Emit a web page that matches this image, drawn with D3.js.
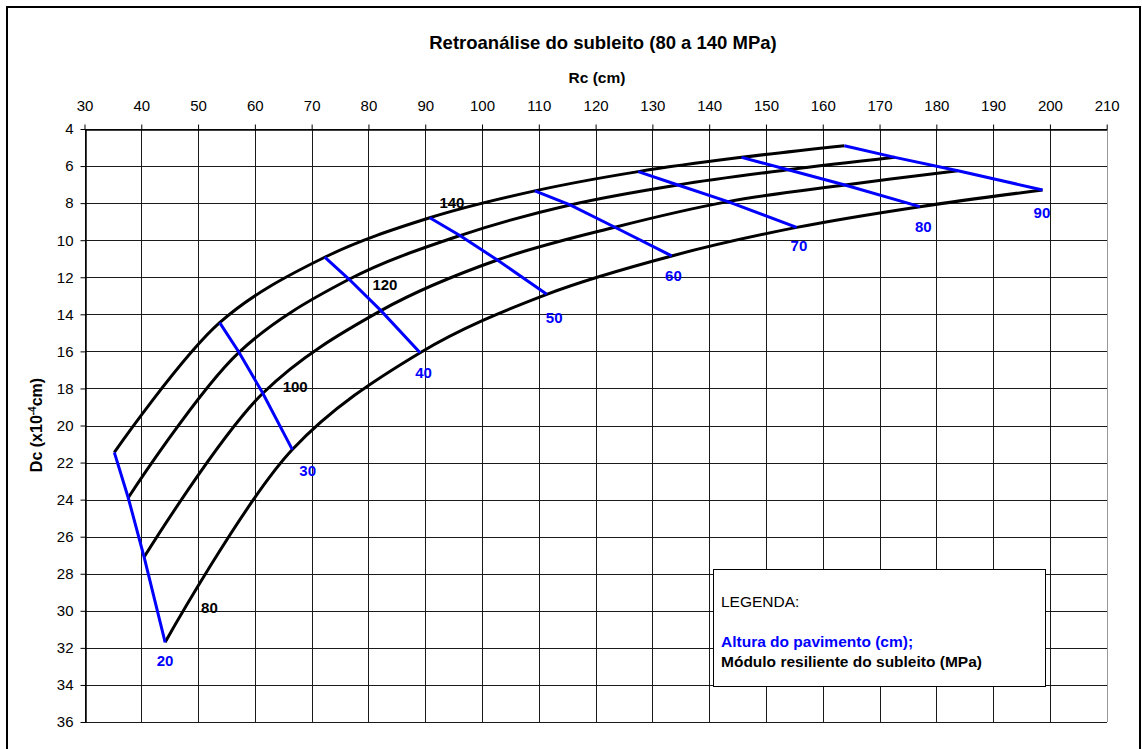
<!DOCTYPE html>
<html>
<head>
<meta charset="utf-8">
<script src="https://cdn.jsdelivr.net/npm/d3@7"></script>
<style>
  html, body { margin: 0; padding: 0; background: #fff; }
  svg { display: block; font-family: "Liberation Sans", Arial, sans-serif; }
</style>
</head>
<body>
<svg id="chart" width="1142" height="749"></svg>
<script>
// ---------------- DATA ----------------
const xTicks = [30,40,50,60,70,80,90,100,110,120,130,140,150,160,170,180,190,200,210];
const yTicks = [4,6,8,10,12,14,16,18,20,22,24,26,28,30,32,34,36];

// pavement thickness (cm) – one point per curve for each
const heights = [20,30,40,50,60,70,80,90];
// subgrade resilient modulus (MPa) – one black curve each
const moduli = [80,100,120,140];

// Rc (cm) and Dc (x10^-4 cm) for each modulus, ordered by heights
const rc80  = [44.2, 66.6, 89.1, 111.4, 133.4, 155.4, 177.1, 198.7];
const dc80  = [31.7, 21.3, 16.07, 12.92, 10.85, 9.31, 8.19, 7.29];
const rc100 = [40.5, 61.4, 82.2, 102.7, 123.4, 143.3, 163.9, 183.8];
const dc100 = [27.1, 18.26, 13.8, 11.07, 9.3, 7.92, 7.02, 6.25];
const rc120 = [37.7, 57.2, 76.6, 96.1, 115.5, 134.5, 153.9, 172.7];
const dc120 = [23.9, 16.05, 12.11, 9.75, 8.1, 7.02, 6.2, 5.53];
const rc140 = [35.25, 53.8, 72.3, 90.8, 109.3, 127.5, 145.7, 163.8];
const dc140 = [21.45, 14.45, 10.92, 8.79, 7.34, 6.3, 5.53, 4.9];

// label anchors (data units)
const heightLabelRc = [44.2, 69.3, 89.7, 112.7, 133.7, 155.8, 177.7, 198.6];
const heightLabelDc = [32.7, 22.45, 17.13, 14.18, 11.92, 10.26, 9.27, 8.52];
const modulusLabelRc = [52.0, 67.1, 82.9, 94.7];
const modulusLabelDc = [29.8, 17.92, 12.38, 7.98];

const titleText = "Retroanálise do subleito (80 a 140 MPa)";
const xTitle = "Rc (cm)";
const legendLines = ["LEGENDA:", "Altura do pavimento (cm);", "Módulo resiliente do subleito (MPa)"];

// ---------------- CHART ----------------
const svg = d3.select("#chart");
const BLUE = "#0000ff";

const x = d3.scaleLinear().domain([30, 210]).range([84.5, 1106.7]);
const y = d3.scaleLinear().domain([4, 36]).range([129, 722]);
const px = v => Math.round(x(v)) + 0.5;
const py = v => Math.round(y(v)) + 0.5;

// outer frame
svg.append("path")
  .attr("d", "M7,760V7H1140V760")
  .attr("fill", "none").attr("stroke", "#000").attr("stroke-width", 2);

// title
svg.append("text").attr("x", 603).attr("y", 48.5)
  .attr("text-anchor", "middle").attr("font-weight", "bold").attr("font-size", 18.5)
  .text(titleText);
svg.append("text").attr("x", 597).attr("y", 83)
  .attr("text-anchor", "middle").attr("font-weight", "bold").attr("font-size", 15.5)
  .text(xTitle);

// grid
const grid = svg.append("g").attr("stroke", "#1a1a1a").attr("stroke-width", 1).attr("shape-rendering", "crispEdges");
grid.selectAll("line.v").data(xTicks).join("line")
  .attr("x1", d => px(d)).attr("x2", d => px(d))
  .attr("y1", y(4)).attr("y2", y(36))
  .attr("stroke", d => d === 210 ? "#999" : null);
grid.selectAll("line.h").data(yTicks).join("line")
  .attr("x1", x(30)).attr("x2", x(210))
  .attr("y1", d => py(d)).attr("y2", d => py(d));

// axes
const xAxis = d3.axisTop(x).tickValues(xTicks).tickSize(5).tickSizeOuter(0).tickPadding(14);
const gx = svg.append("g").attr("transform", `translate(0,${py(4)})`).call(xAxis);
gx.selectAll("text").attr("font-size", 15).attr("font-family", "Liberation Sans, Arial, sans-serif").attr("fill", "#000");
gx.select(".domain").attr("stroke", "#000").attr("stroke-width", 1.5);
gx.selectAll(".tick line").attr("stroke", "#000");

const yAxis = d3.axisLeft(y).tickValues(yTicks).tickSize(5).tickSizeOuter(0).tickPadding(7);
const gy = svg.append("g").attr("transform", `translate(${px(30)},0)`).call(yAxis);
gy.selectAll("text").attr("font-size", 15).attr("font-family", "Liberation Sans, Arial, sans-serif").attr("fill", "#000");
gy.select(".domain").attr("stroke", "#000").attr("stroke-width", 1.5);
gy.selectAll(".tick line").attr("stroke", "#000");

// y axis title
const yt = svg.append("text")
  .attr("transform", "translate(42,425) rotate(-90)")
  .attr("text-anchor", "middle").attr("font-weight", "bold").attr("font-size", 16);
yt.append("tspan").text("Dc (x10");
yt.append("tspan").attr("font-size", 10).attr("dy", -6).text("-4");
yt.append("tspan").attr("dy", 6).text("cm)");

// black curves
const curveData = [
  {m: moduli[0], rc: rc80,  dc: dc80},
  {m: moduli[1], rc: rc100, dc: dc100},
  {m: moduli[2], rc: rc120, dc: dc120},
  {m: moduli[3], rc: rc140, dc: dc140}
];
const line = d3.line().x(d => x(d[0])).y(d => y(d[1])).curve(d3.curveCatmullRom.alpha(0.5));
svg.append("g").selectAll("path").data(curveData).join("path")
  .attr("d", c => line(c.rc.map((r, i) => [r, c.dc[i]])))
  .attr("fill", "none").attr("stroke", "#000").attr("stroke-width", 3);

// blue iso-thickness lines
const straight = d3.line().x(d => x(d[0])).y(d => y(d[1]));
svg.append("g").selectAll("path").data(heights).join("path")
  .attr("d", (h, i) => straight(curveData.map(c => [c.rc[i], c.dc[i]])))
  .attr("fill", "none").attr("stroke", BLUE).attr("stroke-width", 3);

// labels
svg.append("g").selectAll("text").data(heights).join("text")
  .attr("x", (h, i) => x(heightLabelRc[i])).attr("y", (h, i) => y(heightLabelDc[i]) + 5.5)
  .attr("text-anchor", "middle").attr("font-weight", "bold").attr("font-size", 15).attr("fill", BLUE)
  .text(h => h);
svg.append("g").selectAll("text").data(moduli).join("text")
  .attr("x", (m, i) => x(modulusLabelRc[i])).attr("y", (m, i) => y(modulusLabelDc[i]) + 5.5)
  .attr("text-anchor", "middle").attr("font-weight", "bold").attr("font-size", 15).attr("fill", "#000")
  .text(m => m);

// legend
const lg = svg.append("g");
lg.append("rect").attr("x", 713.5).attr("y", 569.5).attr("width", 332).attr("height", 117)
  .attr("fill", "#fff").attr("stroke", "#000").attr("stroke-width", 1);
lg.append("text").attr("x", 721).attr("y", 607).attr("font-size", 15.5).text(legendLines[0]);
lg.append("text").attr("x", 721).attr("y", 647).attr("font-size", 15.5).attr("font-weight", "bold").attr("fill", BLUE).text(legendLines[1]);
lg.append("text").attr("x", 721).attr("y", 667).attr("font-size", 15.5).attr("font-weight", "bold").text(legendLines[2]);
</script>
</body>
</html>
